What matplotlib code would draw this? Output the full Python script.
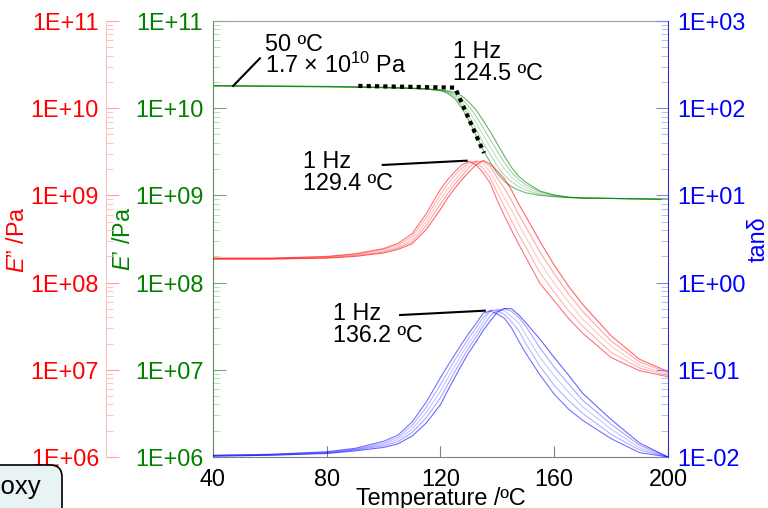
import numpy as np
import matplotlib
matplotlib.use('Agg')
import matplotlib.pyplot as plt
from matplotlib.ticker import LogLocator, NullFormatter, FuncFormatter
from matplotlib.patches import FancyBboxPatch
from matplotlib.transforms import IdentityTransform

plt.rcParams['font.family'] = ['Liberation Sans', 'DejaVu Sans']
plt.rcParams['mathtext.fontset'] = 'custom'
plt.rcParams['mathtext.rm'] = 'Liberation Sans'
plt.rcParams['mathtext.it'] = 'Liberation Sans:italic'
plt.rcParams['font.size'] = 16.8

# temperature grid (ºC) shared by all sweeps
temp = [40, 60, 80, 90, 100, 105, 110, 115, 120, 122.5, 125, 127.5, 130, 132.5,
        135, 137.5, 140, 142.5, 145, 147.5, 150, 155, 160, 165, 170, 180, 190, 200]

# log10 values; first list = 1 Hz, then higher frequencies
storage_log = [
    [10.26, 10.255, 10.25, 10.245, 10.24, 10.235, 10.23, 10.22, 10.20, 10.17, 10.11, 10.00, 9.86, 9.69,
     9.52, 9.38, 9.25, 9.16, 9.10, 9.06, 9.03, 9.00, 8.985, 8.975, 8.97, 8.965, 8.96, 8.955],
    [10.26, 10.255, 10.248, 10.244, 10.239, 10.234, 10.229, 10.22, 10.203, 10.18, 10.13, 10.035, 9.91, 9.76,
     9.605, 9.47, 9.335, 9.23, 9.155, 9.10, 9.06, 9.01, 8.99, 8.976, 8.97, 8.965, 8.96, 8.955],
    [10.255, 10.25, 10.247, 10.243, 10.238, 10.233, 10.228, 10.22, 10.205, 10.185, 10.145, 10.07, 9.965, 9.835,
     9.69, 9.555, 9.42, 9.305, 9.21, 9.14, 9.09, 9.025, 8.995, 8.977, 8.97, 8.965, 8.96, 8.955],
    [10.255, 10.25, 10.246, 10.241, 10.236, 10.231, 10.226, 10.22, 10.208, 10.19, 10.16, 10.105, 10.02, 9.91,
     9.775, 9.64, 9.505, 9.375, 9.265, 9.18, 9.12, 9.04, 9.00, 8.979, 8.97, 8.965, 8.96, 8.955],
    [10.255, 10.25, 10.245, 10.24, 10.235, 10.23, 10.225, 10.22, 10.21, 10.20, 10.18, 10.14, 10.07, 9.98,
     9.86, 9.73, 9.59, 9.45, 9.32, 9.22, 9.15, 9.05, 9.005, 8.98, 8.97, 8.965, 8.96, 8.955],
]
loss_log = [
    [8.28, 8.28, 8.30, 8.33, 8.39, 8.45, 8.56, 8.79, 9.07, 9.18, 9.27, 9.35, 9.39, 9.35,
     9.26, 9.14, 8.94, 8.765, 8.60, 8.44, 8.29, 7.99, 7.79, 7.59, 7.42, 7.14, 6.99, 6.92],
    [8.28, 8.28, 8.295, 8.325, 8.38, 8.43, 8.53, 8.745, 9.01, 9.13, 9.23, 9.31, 9.385, 9.38,
     9.31, 9.20, 9.03, 8.87, 8.71, 8.55, 8.41, 8.11, 7.89, 7.68, 7.50, 7.20, 7.02, 6.935],
    [8.275, 8.275, 8.29, 8.315, 8.365, 8.41, 8.50, 8.70, 8.955, 9.075, 9.175, 9.27, 9.36, 9.395,
     9.36, 9.27, 9.12, 8.97, 8.83, 8.67, 8.52, 8.23, 7.99, 7.78, 7.58, 7.27, 7.05, 6.95],
    [8.27, 8.27, 8.285, 8.31, 8.35, 8.395, 8.47, 8.655, 8.90, 9.02, 9.13, 9.225, 9.32, 9.39,
     9.39, 9.33, 9.20, 9.08, 8.94, 8.78, 8.64, 8.35, 8.10, 7.87, 7.67, 7.33, 7.09, 6.965],
    [8.27, 8.27, 8.28, 8.30, 8.34, 8.38, 8.445, 8.61, 8.84, 8.97, 9.08, 9.18, 9.27, 9.35,
     9.40, 9.36, 9.28, 9.19, 9.06, 8.90, 8.76, 8.47, 8.20, 7.96, 7.75, 7.39, 7.12, 6.98],
]
tan_log = [
    [-1.98, -1.97, -1.94, -1.90, -1.82, -1.75, -1.60, -1.37, -1.09, -0.957, -0.828, -0.70, -0.58, -0.47,
     -0.35, -0.325, -0.36, -0.41, -0.52, -0.67, -0.81, -1.06, -1.28, -1.45, -1.58, -1.79, -1.95, -2.00],
    [-1.98, -1.97, -1.945, -1.91, -1.84, -1.775, -1.64, -1.43, -1.17, -1.03, -0.89, -0.76, -0.635, -0.52,
     -0.40, -0.316, -0.325, -0.365, -0.45, -0.55, -0.70, -0.96, -1.18, -1.35, -1.50, -1.74, -1.92, -2.00],
    [-1.985, -1.975, -1.95, -1.915, -1.855, -1.80, -1.68, -1.49, -1.245, -1.10, -0.96, -0.82, -0.69, -0.575,
     -0.45, -0.325, -0.307, -0.325, -0.39, -0.46, -0.60, -0.86, -1.07, -1.255, -1.425, -1.68, -1.895, -2.00],
    [-1.99, -1.98, -1.955, -1.92, -1.87, -1.825, -1.72, -1.55, -1.32, -1.17, -1.025, -0.88, -0.745, -0.625,
     -0.50, -0.38, -0.32, -0.30, -0.33, -0.40, -0.50, -0.75, -0.97, -1.16, -1.35, -1.625, -1.865, -2.00],
    [-1.99, -1.98, -1.96, -1.93, -1.89, -1.85, -1.76, -1.61, -1.40, -1.24, -1.09, -0.94, -0.80, -0.68,
     -0.55, -0.44, -0.34, -0.297, -0.30, -0.37, -0.46, -0.65, -0.86, -1.06, -1.27, -1.57, -1.84, -2.00],
]
# tangent construction for the E' onset (1 Hz)
onset_t = [91.1, 125.1, 135.3]
onset_e = [1.8e10, 1.72e10, 3.06e9]

alphas = [0.55, 0.3, 0.22, 0.35, 0.6]

fig = plt.figure(figsize=(7.68, 5.08), dpi=100)
ax = fig.add_axes([0.2773, 0.1004, 0.5925, 0.8583])
ax_r = ax.twinx()
ax_b = ax.twinx()

t = np.array(temp)
for k in range(5):
    ax.plot(t, 10 ** np.array(storage_log[k]), color='#008000', lw=0.8, alpha=alphas[k])
    ax_r.plot(t, 10 ** np.array(loss_log[k]), color='#ff0000', lw=0.8, alpha=alphas[k])
    ax_b.plot(t, 10 ** np.array(tan_log[k]), color='#0000ff', lw=0.8, alpha=alphas[k])

ax.plot(onset_t, onset_e, color='black', lw=3, linestyle=(0, (1, 1)))

fmt = FuncFormatter(lambda v, p: '1E%+03d' % round(np.log10(v)))
for a, lo, hi in [(ax, 1e6, 1e11), (ax_r, 1e6, 1e11), (ax_b, 1e-2, 1e3)]:
    a.set_yscale('log')
    a.set_ylim(lo, hi)
    a.yaxis.set_major_locator(LogLocator(base=10, numticks=12))
    a.yaxis.set_minor_locator(LogLocator(base=10, subs=np.arange(2, 10), numticks=12))
    a.yaxis.set_minor_formatter(NullFormatter())
    a.yaxis.set_major_formatter(fmt)
ax.set_xlim(40, 200)
ax.set_xticks([40, 80, 120, 160, 200])

# spines
ax.spines['right'].set_visible(False)
ax.spines['top'].set_color('#a0a0a0')
ax.spines['bottom'].set_color('#808080')
ax.spines['left'].set_color('#5f8f5f')
for s in ['right', 'top', 'bottom']:
    ax_r.spines[s].set_visible(False)
ax_r.spines['left'].set_visible(True)
ax_r.spines['left'].set_position(('axes', -0.235))
ax_r.spines['left'].set_color('#ffc0c0')
ax_r.yaxis.set_ticks_position('left')
ax_r.yaxis.set_label_position('left')
for s in ['left', 'top', 'bottom']:
    ax_b.spines[s].set_visible(False)
ax_b.spines['right'].set_color('#3030d0')

ax.tick_params(axis='x', direction='in', length=8, color='#808080', labelcolor='black', pad=8)
ax.tick_params(axis='y', which='major', direction='in', length=9, color='#70a870',
               labelcolor='#008000', pad=7)
ax.tick_params(axis='y', which='minor', direction='in', length=5, color='#b0d8b0')
ax_r.tick_params(axis='y', which='major', direction='in', length=9, color='#ffa0a0',
                 labelcolor='#ff0000', pad=5)
ax_r.tick_params(axis='y', which='minor', direction='in', length=5, color='#ffb8b8')
ax_b.tick_params(axis='y', which='major', direction='in', length=9, color='#8080f0',
                 labelcolor='#0000ff', pad=6.5)
ax_b.tick_params(axis='y', which='minor', direction='in', length=5, color='#b0b0f4')

ax.set_xlabel('Temperature /ºC')
ax.xaxis.set_label_coords(0.5, -0.068)
ax.set_ylabel(r'$\it{E}$’ /Pa', color='#008000')
ax.yaxis.set_label_coords(-0.171, 0.5)
ax_r.set_ylabel(r'$\it{E}$” /Pa', color='#ff0000')
ax_r.yaxis.set_label_coords(-0.404, 0.5)
ax_b.set_ylabel('tanδ', color='#0000ff')
ax_b.yaxis.set_label_coords(1.172, 0.5)

# annotations (y = baseline of the second line)
ax.plot([47.1, 56.5], [1.8e10, 3.73e10], color='black', lw=1.5)
ax.text(58.3, 10 ** 10.404, '50 ºC\n1.7 × 10$^{10}$ Pa', ha='left', va='baseline',
        linespacing=0.86)
ax.text(124.4, 10 ** 10.323, '1 Hz\n124.5 ºC', ha='left', va='baseline', linespacing=0.93)

ax_r.plot([99.7, 129.2], [10 ** 9.349, 10 ** 9.398], color='black', lw=1.5)
ax_r.text(71.6, 10 ** 9.062, '1 Hz\n129.4 ºC', ha='left', va='baseline', linespacing=0.93)

ax_b.plot([105.8, 135.6], [10 ** -0.372, 10 ** -0.322], color='black', lw=1.5)
ax_b.text(82.2, 10 ** -0.681, '1 Hz\n136.2 ºC', ha='left', va='baseline', linespacing=0.93)

# sample tag, partly outside the canvas at the bottom left
tag = FancyBboxPatch((-20, -12), 82, 55, boxstyle='round,pad=0,rounding_size=12',
                     fc='#e8f3f5', ec='black', lw=1.2, transform=IdentityTransform())
fig.patches.append(tag)
fig.text(42 / 768, 1 - 494 / 508, 'Epoxy', ha='right', va='baseline', fontsize=18.5)

fig.savefig('out.png', dpi=100)
